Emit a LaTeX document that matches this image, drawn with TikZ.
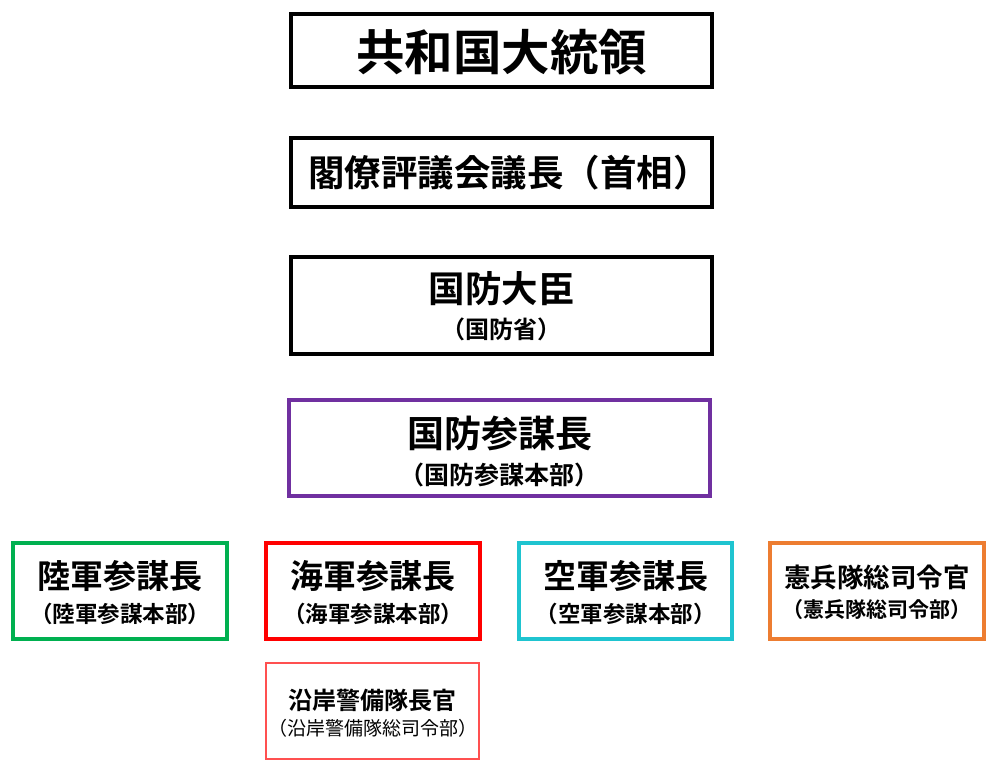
\documentclass[tikz,border=0pt]{standalone}
\usepackage{fontspec}
\newfontfamily\cjk{Noto Sans CJK JP}[BoldFont={Noto Sans CJK JP Bold}]
\definecolor{cpurple}{RGB}{112,48,160}
\definecolor{cgreen}{RGB}{0,176,80}
\definecolor{cred}{RGB}{255,0,0}
\definecolor{ccyan}{RGB}{31,196,208}
\definecolor{corange}{RGB}{237,125,49}
\definecolor{clred}{RGB}{255,80,80}
\tikzset{
  orgbox/.style={draw, line width=3.1pt, rectangle, inner sep=0pt, fill=white},
  txt/.style={inner sep=0pt, font=\cjk\bfseries},
}
\begin{document}
\begin{tikzpicture}[x=1pt,y=-1pt]
\useasboundingbox (0,0) rectangle (998,773);
% top column
\node[orgbox, minimum width=421pt, minimum height=73pt] (pres) at (501.5,50.5) {};
\node[txt, font=\cjk\bfseries\fontsize{48.5}{52}\selectfont] (presT) at (501.5,52) {共和国大統領};
\node[orgbox, minimum width=421pt, minimum height=69pt] (pm) at (501.5,172.5) {};
\node[txt, font=\cjk\bfseries\fontsize{36.5}{40}\selectfont] (pmT) at (509,173) {閣僚評議会議長（首相）};
\node[orgbox, minimum width=421pt, minimum height=97pt] (mod) at (501.5,305.5) {};
\node[txt, font=\cjk\bfseries\fontsize{36.5}{40}\selectfont] (modT) at (501.5,289) {国防大臣};
\node[txt, font=\cjk\bfseries\fontsize{24}{28}\selectfont] (modS) at (501.5,329) {（国防省）};
\node[orgbox, draw=cpurple, minimum width=421pt, minimum height=96pt] (cgs) at (499.5,448) {};
\node[txt, font=\cjk\bfseries\fontsize{37}{40}\selectfont] (cgsT) at (499.5,433) {国防参謀長};
\node[txt, font=\cjk\bfseries\fontsize{25}{28}\selectfont] (cgsS) at (499.5,475) {（国防参謀本部）};
% bottom row
\node[orgbox, draw=cgreen, minimum width=214pt, minimum height=96pt] (army) at (120,591) {};
\node[txt, font=\cjk\bfseries\fontsize{33}{36}\selectfont] (armyT) at (120,576) {陸軍参謀長};
\node[txt, font=\cjk\bfseries\fontsize{22.5}{26}\selectfont] (armyS) at (120,614) {（陸軍参謀本部）};
\node[orgbox, draw=cred, line width=3.6pt, minimum width=214pt, minimum height=96pt] (navy) at (373,591) {};
\node[txt, font=\cjk\bfseries\fontsize{33}{36}\selectfont] (navyT) at (373,576) {海軍参謀長};
\node[txt, font=\cjk\bfseries\fontsize{22.5}{26}\selectfont] (navyS) at (373,614) {（海軍参謀本部）};
\node[orgbox, draw=ccyan, minimum width=213pt, minimum height=96pt] (air) at (625.5,591) {};
\node[txt, font=\cjk\bfseries\fontsize{33}{36}\selectfont] (airT) at (625.5,576) {空軍参謀長};
\node[txt, font=\cjk\bfseries\fontsize{22.5}{26}\selectfont] (airS) at (625.5,614) {（空軍参謀本部）};
\node[orgbox, draw=corange, minimum width=214pt, minimum height=96pt] (mp) at (877,591) {};
\node[txt, font=\cjk\bfseries\fontsize{26.5}{30}\selectfont] (mpT) at (877,577) {憲兵隊総司令官};
\node[txt, font=\cjk\bfseries\fontsize{21}{25}\selectfont] (mpS) at (877,610) {（憲兵隊総司令部）};
\node[orgbox, draw=clred, line width=1.4pt, minimum width=213pt, minimum height=96pt] (coast) at (372.5,711) {};
\node[txt, font=\cjk\bfseries\fontsize{24}{28}\selectfont] (coastT) at (372.5,700) {沿岸警備隊長官};
\node[txt, font=\cjk\fontsize{19}{23}\selectfont] (coastS) at (372.5,728) {（沿岸警備隊総司令部）};
\end{tikzpicture}
\end{document}
